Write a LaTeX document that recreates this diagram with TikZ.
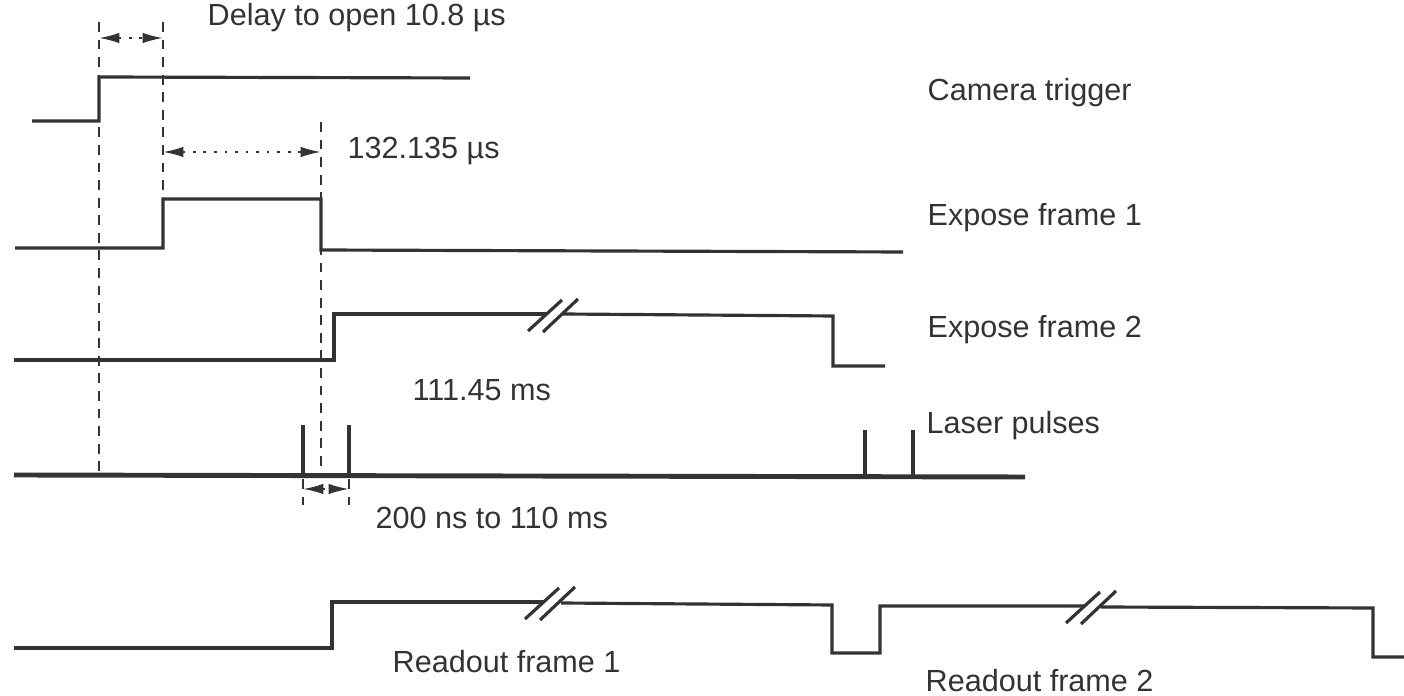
\documentclass[tikz,border=0pt]{standalone}
\usepackage{fontspec}
\setmainfont{Liberation Sans}
\usetikzlibrary{arrows.meta}

\begin{document}
\begin{tikzpicture}[x=0.1mm,y=-0.1mm,color=black!80,
  sig/.style={line width=0.9pt},
  laser/.style={line width=1.4pt},
  guide/.style={line width=0.5pt,dash pattern=on 2.8pt off 2.2pt},
  span/.style={line width=0.6pt,dash pattern=on 0.8pt off 2.2pt,
    {Latex[length=5.8pt,width=3pt]}-{Latex[length=5.8pt,width=3pt]}},
  lbl/.style={anchor=west,inner sep=0pt,font=\fontsize{8.7}{10}\selectfont}]
\useasboundingbox (0,0) rectangle (1404,696);

% labels
\node[lbl] (delay) at (207,18) {Delay to open 10.8 µs};
\node[lbl] (expdur) at (347,151) {132.135 µs};
\node[lbl] (cam) at (927,93) {Camera trigger};
\node[lbl] (exp1) at (927,218) {Expose frame 1};
\node[lbl] (exp2) at (927,330) {Expose frame 2};
\node[lbl] (frm) at (412,390) {111.45 ms};
\node[lbl] (las) at (926,426) {Laser pulses};
\node[lbl] (sep) at (375,518) {200 ns to 110 ms};
\node[lbl] (rd1) at (392,662) {Readout frame 1};
\node[lbl] (rd2) at (925,681) {Readout frame 2};

% guide lines
\draw[guide] (99,22) -- (99,472);
\draw[guide] (163,22) -- (163,248);
\draw[guide] (321,122) -- (321,472);
\draw[guide] (303,479) -- (303,505);
\draw[guide] (349,479) -- (349,505);

% spans
\coordinate (d0) at (99,38);
\coordinate (d1) at (163,38);
\coordinate (e0) at (163,152);
\coordinate (e1) at (321,152);
\coordinate (p0) at (303,489);
\coordinate (p1) at (349,489);
\draw[span] (d0) -- (d1);
\draw[span] (e0) -- (e1);
\draw[span] (p0) -- (p1);

% signals
\draw[sig] (32,121) -- (99,121) -- (99,77) -- (470,78);
\draw[sig] (15,248) -- (163,248) -- (163,199) -- (321,199) -- (321,250) -- (903,252);
\draw[sig] (14,360) -- (334,360) -- (334,314) -- (547,314);
\draw[sig] (563,314) -- (833,316) -- (833,366) -- (885,366);
\draw[sig] (14,648) -- (332,648) -- (332,602) -- (543,602);
\draw[sig] (561,603) -- (832,605) -- (832,653) -- (880,653) -- (880,606) -- (1085,606);
\draw[sig] (1101,607) -- (1373,608) -- (1373,657) -- (1404,657);

% breaks
\foreach \x/\y in {555/314,552/602,1093/606} {
  \draw[sig] (\x-27,\y+17) -- (\x+7,\y-14);
  \draw[sig] (\x-12,\y+18) -- (\x+23,\y-15);
}

% laser pulses
\draw[laser] (14,475) -- (1025,477);
\foreach \x/\t in {303/425,349/425,865/430,913/430}
  \draw[laser] (\x,\t) -- (\x,476);
\end{tikzpicture}
\end{document}
